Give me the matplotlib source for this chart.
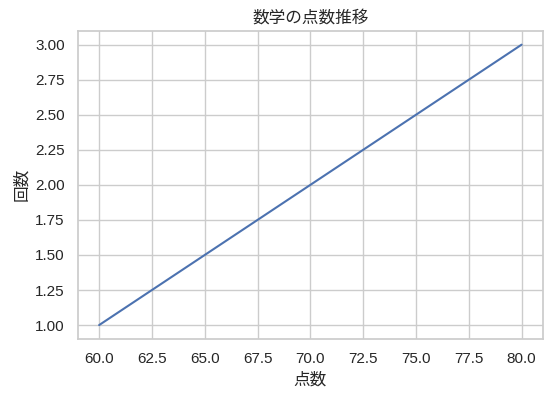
import matplotlib
matplotlib.use("Agg")
import matplotlib.pyplot as plt
import seaborn as sns

# scores and counts
scores = [60, 70, 80]
counts = [1, 2, 3]

sns.set_theme(style="whitegrid")
plt.rcParams['font.family'] = ['Liberation Sans', 'Noto Sans CJK JP', 'DejaVu Sans']

fig, ax = plt.subplots(figsize=(5.52, 3.98), dpi=100)
ax.plot(scores, counts)
ax.set_title("数学の点数推移")
ax.set_xlabel("点数")
ax.set_ylabel("回数")
fig.subplots_adjust(left=0.1413, right=0.9832, top=0.923, bottom=0.148)
plt.savefig("out.png", dpi=100)
